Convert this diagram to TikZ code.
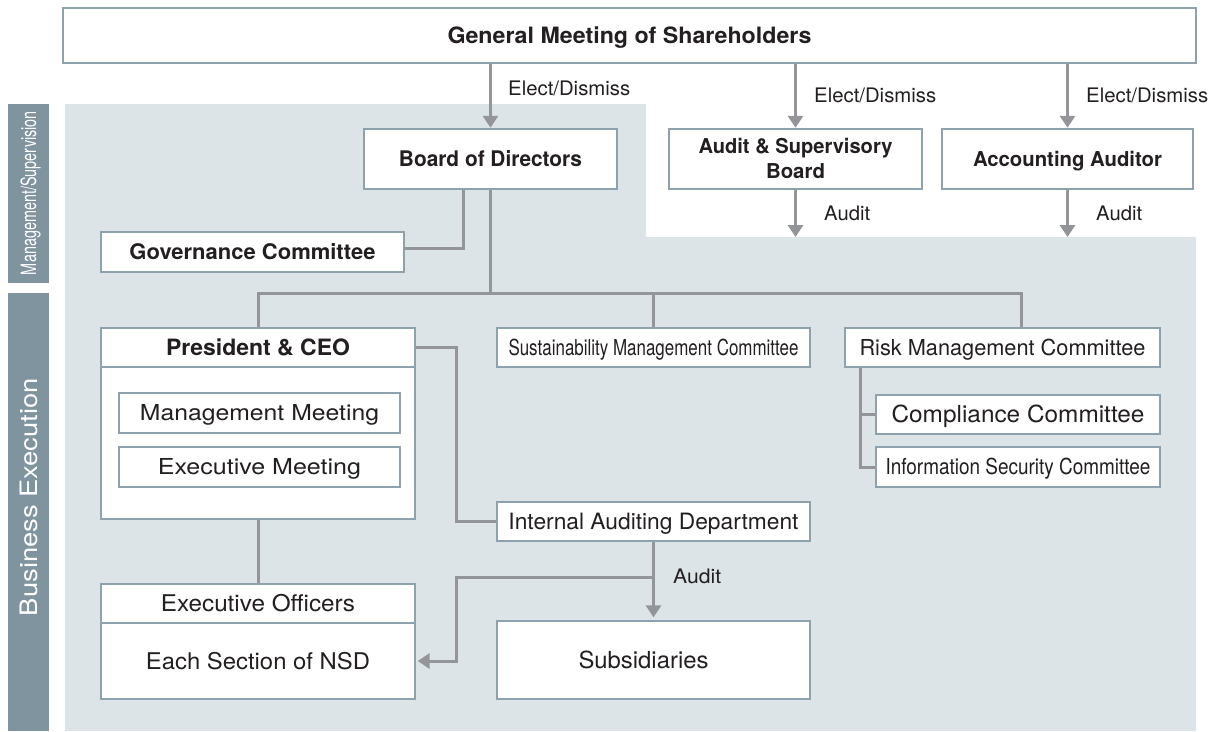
\documentclass[tikz,border=0pt]{standalone}
\usepackage{fontspec}
\setmainfont{TeX Gyre Heros}
\usepackage{graphicx}
\usetikzlibrary{arrows.meta}
\definecolor{bordc}{HTML}{8DA2AD}
\definecolor{linec}{HTML}{939598}
\definecolor{shadec}{HTML}{DDE4E8}
\definecolor{sidec}{HTML}{7F949F}
\definecolor{txtc}{HTML}{231F20}
% text of given width (pt) at given size, box = cap height, no depth
\newcommand\tx[3]{\resizebox{#1pt}{\height}{\fontsize{#2pt}{#2pt}\selectfont\smash{#3}\rule{0pt}{0.72em}}}
\tikzset{
  box/.style={draw=bordc, fill=white, line width=1.3pt, inner sep=0pt, text=txtc},
  boxb/.style={box, line width=2.5pt},
  conn/.style={draw=linec, line width=3pt},
  arr/.style={conn, -{Triangle[length=12pt,width=15pt]}},
  lbl/.style={inner sep=0pt, text=txtc, anchor=west},
  sidelbl/.style={inner sep=0pt, text=white, rotate=90}
}
\begin{document}
\begin{tikzpicture}[x=1pt,y=-1pt]
\useasboundingbox (0,0) rectangle (1218,731);
\fill[white] (0,0) rectangle (1218,731);
% shaded area and side bars
\fill[shadec] (65,104) -- (646,104) -- (646,237) -- (1196,237) -- (1196,731) -- (65,731) -- cycle;
\fill[sidec] (8,104) rectangle (49,283);
\fill[sidec] (8,293) rectangle (49,731);
\node[sidelbl] (sbm) at (28.5,193) {\tx{164}{21}{Management/Supervision}};
\node[sidelbl] (sbe) at (28.5,497) {\tx{238}{24}{Business Execution}};

% boxes
\node[boxb, minimum width=1133pt, minimum height=55pt] (gms) at (629.5,35.5) {\tx{364}{22.5}{\bfseries General Meeting of Shareholders}};
\node[boxb, minimum width=253pt, minimum height=60pt] (bod) at (490.5,159) {\tx{183}{21.5}{\bfseries Board of Directors}};
\node[boxb, minimum width=253pt, minimum height=60pt, align=center, font=\fontsize{20}{25}\selectfont] (asb) at (795.5,159) {\tx{194}{20.5}{\bfseries Audit \& Supervisory}\\\tx{59}{20.5}{\bfseries Board}};
\node[boxb, minimum width=251pt, minimum height=60pt] (acc) at (1067.5,159) {\tx{189}{20.5}{\bfseries Accounting Auditor}};
\node[box, minimum width=303pt, minimum height=40pt] (gov) at (252.5,252) {\tx{246}{21.5}{\bfseries Governance Committee}};

\node[box, minimum width=314pt, minimum height=191pt] (pres) at (258,423.5) {};
\node[box, line width=2pt, minimum width=314pt, minimum height=39pt] (presh) at (258,347.5) {\tx{184}{22.5}{\bfseries President \& CEO}};
\node[box, minimum width=281pt, minimum height=40pt] (mm) at (259.5,413) {\tx{239}{22}{Management Meeting}};
\node[box, minimum width=281pt, minimum height=40pt] (em) at (259.5,467) {\tx{203}{22}{Executive Meeting}};

\node[box, minimum width=313pt, minimum height=39pt] (sust) at (653.5,347.5) {\tx{290}{22}{Sustainability Management Committee}};
\node[box, minimum width=315pt, minimum height=39pt] (risk) at (1002.5,347.5) {\tx{286}{22}{Risk Management Committee}};
\node[box, minimum width=284pt, minimum height=39pt] (comp) at (1018,414.5) {\tx{253}{23.5}{Compliance Committee}};
\node[box, minimum width=284pt, minimum height=40pt] (info) at (1018,467) {\tx{265}{22}{Information Security Committee}};

\node[box, minimum width=313pt, minimum height=39pt] (iad) at (653.5,521.5) {\tx{290}{22.5}{Internal Auditing Department}};
\node[box, minimum width=314pt, minimum height=39pt] (exo) at (258,603.5) {\tx{194}{23}{Executive Officers}};
\node[box, minimum width=314pt, minimum height=76pt] (nsd) at (258,661) {\tx{224}{23}{Each Section of NSD}};
\node[box, minimum width=313pt, minimum height=78pt] (sub) at (653.5,660) {\tx{130}{23.5}{Subsidiaries}\hspace*{20pt}};

% helper coordinates
\coordinate (ay) at (0,237);
\coordinate (gj) at (463,248);
\coordinate (bl) at (258,293);
\coordinate (bm) at (653,293);
\coordinate (br) at (1021,293);
\coordinate (px) at (456,0);
\coordinate (rx) at (860,0);
\coordinate (bj) at (653,577);

% elect / dismiss arrows
\draw[arr] (gms.south -| bod.north) -- (bod.north);
\draw[arr] (gms.south -| asb.north) -- (asb.north);
\draw[arr] (gms.south -| acc.north) -- (acc.north);
\node[lbl] (ed1) at (508,88) {\tx{122}{20}{Elect/Dismiss}};
\node[lbl] (ed2) at (814,95) {\tx{122}{20}{Elect/Dismiss}};
\node[lbl] (ed3) at (1086,95) {\tx{122}{20}{Elect/Dismiss}};

% audit arrows
\draw[arr] (asb.south) -- (asb.south |- ay);
\draw[arr] (acc.south) -- (acc.south |- ay);
\node[lbl] (au1) at (824,213) {\tx{46}{20}{Audit}};
\node[lbl] (au2) at (1096,213) {\tx{46}{20}{Audit}};

% board to governance and trunk
\draw[conn] (bod.south -| gj) -- (gj) -- (gov.east |- gj);
\draw[conn] (bod.south) -- (bod.south |- bl);
\draw[conn] (bl |- presh.north) -- (bl) -- (br) -- (br |- risk.north);
\draw[conn] (bm) -- (bm |- sust.north);

% president to internal auditing
\draw[conn] (presh.east) -- (presh.east -| px) |- (iad.west);
% president to executive officers
\draw[conn] (pres.south) -- (exo.north);

% risk to sub committees
\draw[conn] (risk.south -| rx) |- (info.west);
\draw[conn] (rx |- comp.west) -- (comp.west);

% internal audit
\draw[arr] (iad.south) -- ([yshift=3pt]sub.north);
\draw[arr] (bj) -- (bj -| px) |- ([xshift=2pt]nsd.east);
\node[lbl] (au3) at (673,576) {\tx{48}{20}{Audit}};
\end{tikzpicture}
\end{document}
